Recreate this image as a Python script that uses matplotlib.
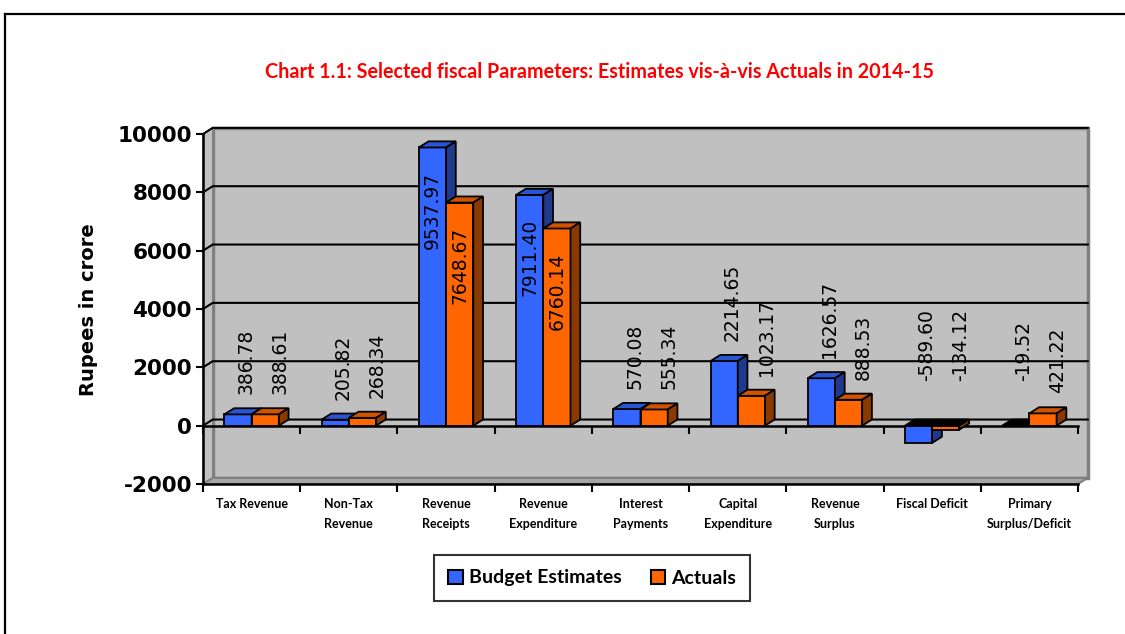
import matplotlib.pyplot as plt
from matplotlib.patches import Polygon, Rectangle, Patch
from matplotlib.lines import Line2D

# chart data (Rupees in crore)
categories = ['Tax Revenue', 'Non-Tax\nRevenue', 'Revenue\nReceipts', 'Revenue\nExpenditure',
              'Interest\nPayments', 'Capital\nExpenditure', 'Revenue\nSurplus', 'Fiscal Deficit',
              'Primary\nSurplus/Deficit']
budget_estimates = [386.78, 205.82, 9537.97, 7911.40, 570.08, 2214.65, 1626.57, -589.60, -19.52]
actuals = [388.61, 268.34, 7648.67, 6760.14, 555.34, 1023.17, 888.53, -134.12, 421.22]
y_ticks = [-2000, 0, 2000, 4000, 6000, 8000, 10000]

YMIN, YMAX = -2000, 10000
DX, DY = 0.1, 210          # fake 3D depth (x in categories, y in rupees)
BAR_W = 0.28

BLUE = ('#3366ff', '#2a55d0', '#1f3a8a')
ORANGE = ('#ff6600', '#d25400', '#8a3a00')
WALL = '#c0c0c0'

fig = plt.figure(figsize=(11.25, 6.34), dpi=100)
ax = fig.add_axes([203 / 1125, 150 / 634, 875 / 1125, 350 / 634])
ax.set_xlim(0, len(categories))
ax.set_ylim(YMIN, YMAX)
ax.set_facecolor('none')

n = len(categories)

# back wall, side wall and floor
ax.add_patch(Polygon([(DX, YMIN + DY), (n + DX, YMIN + DY), (n + DX, YMAX + DY), (DX, YMAX + DY)],
                     fc=WALL, ec='#808080', lw=2.5, zorder=0, clip_on=False))
ax.add_patch(Polygon([(0, YMIN), (DX, YMIN + DY), (DX, YMAX + DY), (0, YMAX)],
                     fc=WALL, ec='#808080', lw=1, zorder=0, clip_on=False))
ax.add_patch(Polygon([(0, YMIN), (n, YMIN), (n + DX, YMIN + DY), (DX, YMIN + DY)],
                     fc='#a6a6a6', ec='#808080', lw=1.5, zorder=0.5, clip_on=False))

# gridlines on the wall
for v in y_ticks[1:]:
    ax.plot([0, DX, n + DX], [v, v + DY, v + DY], color='black', lw=1.5, zorder=1, clip_on=False)


def draw_bar(x0, v, colors, z):
    front, top, side = colors
    lo, hi = min(0, v), max(0, v)
    ax.add_patch(Rectangle((x0, lo), BAR_W, hi - lo, fc=front, ec='black', lw=1.3, zorder=z, clip_on=False))
    ax.add_patch(Polygon([(x0, hi), (x0 + BAR_W, hi), (x0 + BAR_W + DX, hi + DY), (x0 + DX, hi + DY)],
                         fc=top if v > 0 else 'black', ec='black', lw=1.3, zorder=z, clip_on=False))
    ax.add_patch(Polygon([(x0 + BAR_W, lo), (x0 + BAR_W, hi), (x0 + BAR_W + DX, hi + DY),
                          (x0 + BAR_W + DX, lo + DY)],
                         fc=side, ec='black', lw=1.3, zorder=z, clip_on=False))


def label(xc, v, shift):
    if v > 5000:
        ax.annotate(f'{v:.2f}', (xc, v), xytext=(0, -24), textcoords='offset pixels',
                    rotation=90, ha='center', va='top', fontsize=13.5, zorder=6)
    else:
        up = 20 if v >= 0 else 45
        ax.annotate(f'{v:.2f}', (xc, max(v, 0)), xytext=(shift, up), textcoords='offset pixels',
                    rotation=90, ha='center', va='bottom', fontsize=13.5, zorder=6)


for i in range(n):
    xb = i + 0.5 - BAR_W
    xo = i + 0.5
    draw_bar(xb, budget_estimates[i], BLUE, 3)
    draw_bar(xo, actuals[i], ORANGE, 4)
    label(xb + BAR_W / 2, budget_estimates[i], 8)
    label(xo + BAR_W / 2, actuals[i], 15)

# axes styling
for s in ['top', 'right']:
    ax.spines[s].set_visible(False)
ax.spines['left'].set_linewidth(1.8)
ax.spines['bottom'].set_linewidth(1.8)
ax.spines['left'].set_zorder(2)
ax.set_yticks(y_ticks)
ax.set_yticklabels([str(t) for t in y_ticks], fontsize=15.5, fontweight='bold')
ax.tick_params(axis='y', length=5, width=1.5, pad=3)
ax.set_xticks([i + 0.5 for i in range(n)])
ax.set_xticklabels(categories, fontsize=9, fontweight='bold', family='Lato', linespacing=1.8)
ax.set_xticks(range(n + 1), minor=True)
ax.tick_params(axis='x', which='major', length=0, pad=10)
ax.tick_params(axis='x', which='minor', length=6, width=1.5)

# category axis at zero
zero_axis = ax.secondary_xaxis((0 - YMIN) / (YMAX - YMIN))
zero_axis.set_xticks(range(n + 1))
zero_axis.set_xticklabels([])
zero_axis.tick_params(length=6, width=1.5)
zero_axis.spines['bottom'].set_linewidth(1.8)

fig.text(88 / 1125, 1 - 310 / 634, 'Rupees in crore', rotation=90, ha='center', va='center',
         fontsize=14, fontweight='bold')
fig.text(599 / 1125, 1 - 72 / 634, 'Chart 1.1: Selected fiscal Parameters: Estimates vis-à-vis Actuals in 2014-15',
         ha='center', va='center', fontsize=14.2, fontweight='bold', color='#ff0000', family='Lato')

handles = [Patch(fc=BLUE[0], ec='black', lw=1.5), Patch(fc=ORANGE[0], ec='black', lw=1.5)]
leg = fig.legend(handles, ['Budget Estimates', 'Actuals'], loc='center', ncol=2,
                 bbox_to_anchor=(592 / 1125, 1 - 578 / 634), frameon=True, fancybox=False,
                 prop={'family': 'Lato', 'weight': 'bold', 'size': 14},
                 handlelength=0.75, handleheight=0.75, handletextpad=0.3, columnspacing=1.5,
                 borderpad=0.75, borderaxespad=0)
leg.get_frame().set_edgecolor('black')
leg.get_frame().set_linewidth(1.5)

# outer chart border
fig.add_artist(Line2D([5 / 1125, 1], [1 - 14 / 634, 1 - 14 / 634], color='black', lw=1.6))
fig.add_artist(Line2D([5 / 1125, 5 / 1125], [0, 1 - 14 / 634], color='black', lw=1.6))

fig.savefig('out.png', dpi=100)
